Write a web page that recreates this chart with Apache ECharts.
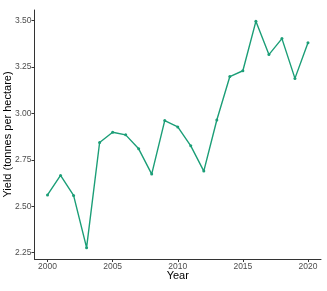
<!DOCTYPE html>
<html><head><meta charset="utf-8">
<script src="https://cdn.jsdelivr.net/npm/echarts@6/dist/echarts.min.js"></script>
<style>html,body{margin:0;padding:0;background:#fff}#c{width:327px;height:291px}</style>
</head><body><div id="c"></div>
<script>
const years = [2000,2001,2002,2003,2004,2005,2006,2007,2008,2009,2010,2011,2012,2013,2014,2015,2016,2017,2018,2019,2020];
const yields = [2.561,2.666,2.558,2.277,2.843,2.898,2.884,2.809,2.673,2.961,2.927,2.825,2.689,2.964,3.198,3.229,3.495,3.316,3.402,3.188,3.380];
const xTicks = [2000,2005,2010,2015,2020];
const yTicks = [2.25,2.50,2.75,3.00,3.25,3.50];

const chart = echarts.init(document.getElementById('c'), null, {renderer:'canvas'});
const axisCol = '#333333';
const labelCol = '#4D4D4D';
chart.setOption({
  animation:false,
  grid:{left:34.5,right:6,top:10,bottom:32,containLabel:false,outerBoundsMode:'none'},
  xAxis:{type:'value',min:1999,max:2021,name:'Year',nameLocation:'middle',nameGap:11,nameMoveOverlap:false,
    nameTextStyle:{color:'#000',fontSize:11,fontFamily:'Liberation Sans'},
    axisLine:{show:true,lineStyle:{color:axisCol,width:1}},
    axisTick:{show:true,length:3,lineStyle:{color:axisCol},customValues:xTicks},
    axisLabel:{color:labelCol,fontSize:8.5,margin:3,fontFamily:'Liberation Sans',customValues:xTicks,formatter:v=>String(v)},
    splitLine:{show:false}},
  yAxis:{type:'value',min:2.216,max:3.556,name:'Yield (tonnes per hectare)',nameLocation:'middle',nameGap:21,nameMoveOverlap:false,
    nameTextStyle:{color:'#000',fontSize:11,fontFamily:'Liberation Sans'},
    axisLine:{show:true,lineStyle:{color:axisCol,width:1}},
    axisTick:{show:true,length:3,lineStyle:{color:axisCol},customValues:yTicks},
    axisLabel:{color:labelCol,fontSize:8.5,margin:3,fontFamily:'Liberation Sans',customValues:yTicks,formatter:v=>v.toFixed(2)},
    splitLine:{show:false}},
  series:[{type:'line',data:years.map((y,i)=>[y,yields[i]]),
    lineStyle:{color:'#1B9E77',width:1.4},itemStyle:{color:'#1B9E77'},
    symbol:'circle',symbolSize:3,showSymbol:true}]
});
</script></body></html>
